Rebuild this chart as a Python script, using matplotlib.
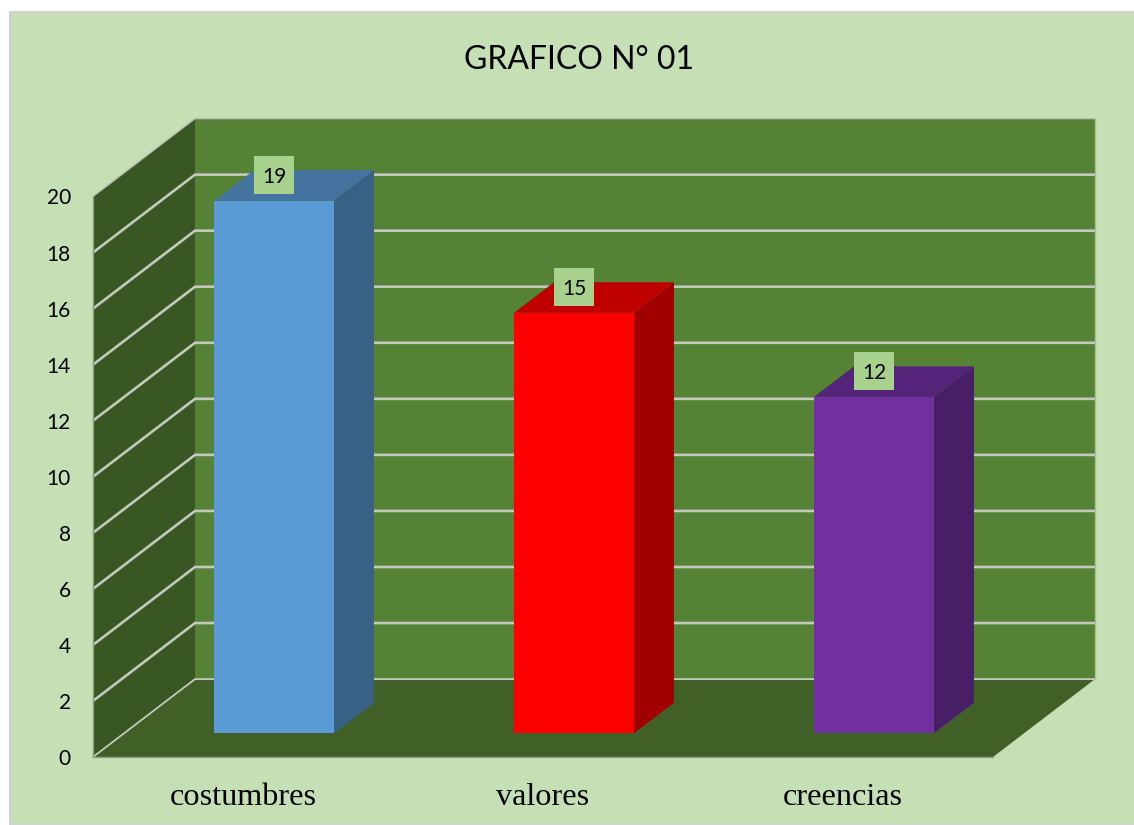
import matplotlib
matplotlib.use('Agg')
import matplotlib.pyplot as plt
from matplotlib.patches import Rectangle

categorias = ['costumbres', 'valores', 'creencias']
valores = [19, 15, 12]
eje_y = [0, 2, 4, 6, 8, 10, 12, 14, 16, 18, 20]

color_frente = ['#5B9BD5', '#FF0000', '#7030A0']
color_arriba = ['#44739F', '#C00000', '#54247A']
color_lado = ['#376286', '#A00000', '#481F67']

# depth of the walls and of the bars, in axis units
prof_x = 0.34
prof_y = 2.78
bar_x = 0.1333
bar_y = 1.09
bar_ancho = 0.4
bar_base = 0.85

fig = plt.figure(figsize=(11.34, 8.25), dpi=100, facecolor='white')

# light green panel
fig.patches.append(Rectangle((10 / 1134, 0), 1124 / 1134, 813 / 825, transform=fig.transFigure,
                             facecolor='#C5E0B4', edgecolor='#D2D2D2', linewidth=1.5, zorder=-1))

ax = fig.add_axes([93 / 1134, 68 / 825, 900 / 1134, 560.5 / 825])
ax.set_xlim(0, 3)
ax.set_ylim(0, 20)
ax.patch.set_visible(False)
for s in ax.spines.values():
    s.set_visible(False)

# walls and floor
ax.fill([prof_x, 3 + prof_x, 3 + prof_x, prof_x], [prof_y, prof_y, 20 + prof_y, 20 + prof_y],
        color='#568235', lw=0, clip_on=False, zorder=1)
ax.fill([0, prof_x, prof_x, 0], [0, prof_y, 20 + prof_y, 20],
        color='#385723', lw=0, clip_on=False, zorder=1)
ax.fill([0, 3, 3 + prof_x, prof_x], [0, 0, prof_y, prof_y],
        color='#406028', lw=0, clip_on=False, zorder=1)

# gridlines
for v in eje_y:
    ancho = 1.0 if v == 20 else (1.3 if v == 0 else 1.9)
    col = '#C4C9BE' if v != 20 else '#BDBDBD'
    ax.plot([0, prof_x, 3 + prof_x], [v, v + prof_y, v + prof_y], color=col, lw=ancho,
            clip_on=False, zorder=2, solid_joinstyle='miter')
ax.plot([3 + prof_x, 3 + prof_x], [prof_y, 20 + prof_y], color='#A9BC9B', lw=1, clip_on=False, zorder=2)
ax.plot([0, 0], [0, 20], color='#8A9A80', lw=1, clip_on=False, zorder=2)
ax.plot([0, 3], [0, 0], color='#8FA283', lw=1, clip_on=False, zorder=2)

# bars
for i, v in enumerate(valores):
    x0 = i + 0.5 - 0.0967
    x1 = x0 + bar_ancho
    y0 = bar_base
    y1 = bar_base + v
    ax.fill([x0, x1, x1 + bar_x, x0 + bar_x], [y1, y1, y1 + bar_y, y1 + bar_y],
            color=color_arriba[i], lw=0, clip_on=False, zorder=3)
    ax.fill([x1, x1 + bar_x, x1 + bar_x, x1], [y0, y0 + bar_y, y1 + bar_y, y1],
            color=color_lado[i], lw=0, clip_on=False, zorder=3)
    ax.bar(x0, v, width=bar_ancho, bottom=y0, align='edge', color=color_frente[i], lw=0, zorder=4)
    # value label
    cx = x0 + bar_ancho / 2
    cy = y1 + 0.93
    ax.add_patch(Rectangle((cx - 0.068, cy - 0.68), 0.136, 1.36, facecolor='#A9D18E',
                           edgecolor='none', clip_on=False, zorder=5))
    ax.text(cx, cy, str(v), ha='center', va='center_baseline', fontsize=15, family='Lato',
            color='black', zorder=6)

ax.set_yticks(eje_y)
ax.set_yticklabels([str(v) for v in eje_y], fontsize=15, family='Lato', color='black', va='center_baseline')
ax.set_xticks([0.5, 1.5, 2.5])
ax.set_xticklabels(categorias, fontsize=23.2, family='Liberation Serif', color='black')
ax.tick_params(axis='y', length=0, pad=16)
ax.tick_params(axis='x', length=0, pad=18.5)

fig.text(579 / 1134, 1 - 60 / 825, 'GRAFICO N° 01', ha='center', va='center', fontsize=23,
         family='Lato', color='black')

fig.savefig('out.png', dpi=100, facecolor='white')
